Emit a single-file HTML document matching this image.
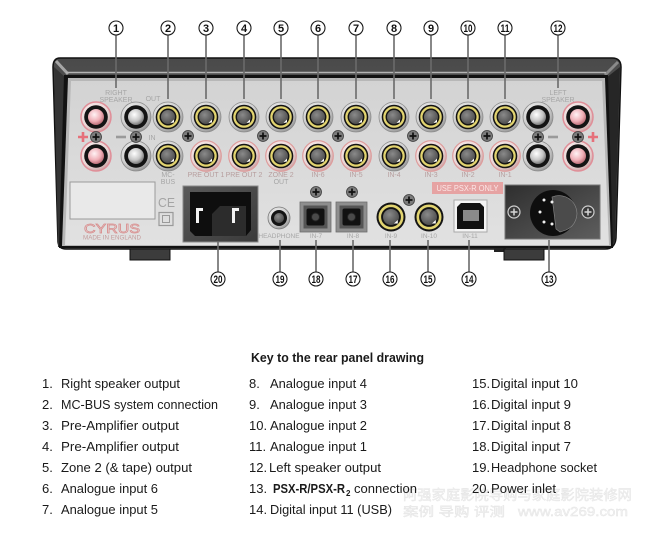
<!DOCTYPE html>
<html><head><meta charset="utf-8">
<style>
html,body{margin:0;padding:0;background:#fff;}
svg{display:block;}
</style></head>
<body>
<svg width="650" height="543" viewBox="0 0 650 543" xmlns="http://www.w3.org/2000/svg" font-family="Liberation Sans, Arial, sans-serif">
<defs>
 <radialGradient id="silver" cx="0.4" cy="0.35" r="0.7">
   <stop offset="0" stop-color="#f6f6f6"/>
   <stop offset="0.65" stop-color="#d0d0d0"/>
   <stop offset="1" stop-color="#8e8e8e"/>
 </radialGradient>
 <radialGradient id="pinkface" cx="0.4" cy="0.35" r="0.7">
   <stop offset="0" stop-color="#fbf1f1"/>
   <stop offset="0.7" stop-color="#ead6d6"/>
   <stop offset="1" stop-color="#c79a9a"/>
 </radialGradient>
 <radialGradient id="ball" cx="0.4" cy="0.35" r="0.7">
   <stop offset="0" stop-color="#ffffff"/>
   <stop offset="0.6" stop-color="#c4c4c4"/>
   <stop offset="1" stop-color="#6a6a6a"/>
 </radialGradient>
 <radialGradient id="pinkball" cx="0.4" cy="0.35" r="0.7">
   <stop offset="0" stop-color="#fff3f5"/>
   <stop offset="0.6" stop-color="#efaeb6"/>
   <stop offset="1" stop-color="#b4646e"/>
 </radialGradient>
 <radialGradient id="grayc" cx="0.4" cy="0.35" r="0.7">
   <stop offset="0" stop-color="#8a8a8a"/>
   <stop offset="1" stop-color="#4a4a4a"/>
 </radialGradient>
 <linearGradient id="panel" x1="0" y1="0" x2="0" y2="1">
   <stop offset="0" stop-color="#d3d3d3"/>
   <stop offset="1" stop-color="#e1e1e1"/>
 </linearGradient>
 <linearGradient id="frame" x1="0" y1="0" x2="0" y2="1">
   <stop offset="0" stop-color="#4a4a4a"/>
   <stop offset="1" stop-color="#6a6a6a"/>
 </linearGradient>
 <linearGradient id="plate" x1="0" y1="0" x2="1" y2="1">
   <stop offset="0" stop-color="#2e2e2e"/>
   <stop offset="1" stop-color="#5e5e5e"/>
 </linearGradient>
 <linearGradient id="inlet" x1="0" y1="0" x2="1" y2="1">
   <stop offset="0" stop-color="#5a5a5a"/>
   <stop offset="1" stop-color="#3a3a3a"/>
 </linearGradient>
 <g id="rcacore">
   <circle r="12.3" fill="#141414"/>
   <circle r="9.6" fill="none" stroke="#e2d470" stroke-width="2.3"/>
   <circle r="7" fill="url(#grayc)"/>
   <path d="M2.5,6 L6,2.5 L6,5.5 Z" fill="#fff"/>
 </g>
 <g id="rca">
   <circle r="15" fill="url(#silver)" stroke="#8c8c8c" stroke-width="0.8"/>
   <use href="#rcacore"/>
 </g>
 <g id="rcap">
   <circle r="15.3" fill="url(#pinkface)" stroke="#de9c9c" stroke-width="1.2"/>
   <use href="#rcacore"/>
 </g>
 <g id="screw">
   <circle r="5.5" fill="#7c7c7c" stroke="#3c3c3c" stroke-width="0.8"/>
   <path d="M-3.5,0H3.5M0,-3.5V3.5" stroke="#111" stroke-width="1.7"/>
 </g>
 <g id="screwL">
   <circle r="6" fill="#3a3a3a" stroke="#cfcfcf" stroke-width="1.2"/>
   <path d="M-3.5,0H3.5M0,-3.5V3.5" stroke="#d6d6d6" stroke-width="1.5"/>
 </g>
 <g id="spkR">
   <circle r="15" fill="url(#pinkface)" stroke="#e08e98" stroke-width="1.5"/>
   <circle r="11.8" fill="#141414"/>
   <circle r="8" fill="url(#pinkball)"/>
 </g>
 <g id="spkB">
   <circle r="15" fill="url(#silver)" stroke="#8a8a8a" stroke-width="0.8"/>
   <circle r="11.8" fill="#141414"/>
   <circle r="8" fill="url(#ball)"/>
 </g>
 <g id="coax">
   <circle r="14.5" fill="#141414"/>
   <circle r="11.2" fill="none" stroke="#e2d470" stroke-width="2.6"/>
   <circle r="8" fill="url(#grayc)"/>
   <path d="M3,6.5 L6.8,3 L6.8,6.5 Z" fill="#fff"/>
 </g>
 <g id="opt">
   <rect x="-16" y="-15" width="31" height="30" fill="#8e8e8e" stroke="#6e6e6e" stroke-width="0.8"/>
   <rect x="-12.5" y="-11.5" width="24" height="23" fill="#555"/>
   <rect x="-9.5" y="-8.5" width="18" height="17" rx="2" fill="#111"/>
   <circle cx="-0.5" cy="0" r="4" fill="#4a4a4a" stroke="#222" stroke-width="1"/>
 </g>
</defs>

<!-- chassis -->
<path d="M60,58 H612 Q621,58 621,67 L616,238 Q615,249 605,249 H66 Q59,249 58,242 L53,67 Q53,58 60,58 Z" fill="url(#frame)" stroke="#111" stroke-width="1.5"/>
<path d="M54,67 L66,78 L61,247 L58,247 Z" fill="#343434"/>
<path d="M620,67 L606,78 L612,247 L615,240 Z" fill="#262626"/>
<path d="M56,61 L68,74" stroke="#a6a6a6" stroke-width="3"/>
<path d="M618,62 L605,75" stroke="#8a8a8a" stroke-width="3"/>
<path d="M66,72.5 H606" stroke="#b4b4b4" stroke-width="1.6"/>
<path d="M64,75 H608 L613,248 H59 Z" fill="#121212"/>
<path d="M68,78 H605 L611,246 H62 Z" fill="#b7b7b7"/>
<path d="M71,81 H602 L609,245 H65 Z" fill="url(#panel)"/>
<!-- feet -->
<rect x="130" y="249" width="40" height="11" fill="#3c3c3c" stroke="#111" stroke-width="1"/>
<rect x="494" y="248" width="12" height="4" fill="#222"/>
<rect x="504" y="249" width="40" height="11" fill="#3c3c3c" stroke="#111" stroke-width="1"/>

<!-- panel labels -->
<g font-size="7" fill="#a6a6a6" text-anchor="middle">
 <text x="116" y="95">RIGHT</text>
 <text x="116" y="102">SPEAKER</text>
 <text x="558" y="95">LEFT</text>
 <text x="558" y="102">SPEAKER</text>
 <text x="153" y="101">OUT</text>
 <text x="152" y="140">IN</text>
 <text x="168" y="177">MC-</text>
 <text x="168" y="184">BUS</text>
 <text x="281" y="184">OUT</text>
</g>
<g font-size="7" fill="#b79e9e" text-anchor="middle">
 <text x="206" y="177">PRE OUT 1</text>
 <text x="244" y="177">PRE OUT 2</text>
 <text x="281" y="177">ZONE 2</text>
 <text x="318" y="177">IN-6</text>
 <text x="356" y="177">IN-5</text>
 <text x="394" y="177">IN-4</text>
 <text x="431" y="177">IN-3</text>
 <text x="468" y="177">IN-2</text>
 <text x="505" y="177">IN-1</text>
</g>
<g font-size="6.5" fill="#a6a6a6" text-anchor="middle">
 <text x="279" y="238">HEADPHONE</text>
 <text x="316" y="238">IN-7</text>
 <text x="353" y="238">IN-8</text>
 <text x="391" y="238">IN-9</text>
 <text x="429" y="238">IN-10</text>
 <text x="470" y="238">IN-11</text>
</g>

<!-- speaker terminals -->
<use href="#spkR" x="96" y="117"/>
<use href="#spkR" x="96" y="156"/>
<use href="#spkB" x="136" y="117"/>
<use href="#spkB" x="136" y="156"/>
<use href="#spkB" x="538" y="117"/>
<use href="#spkB" x="538" y="156"/>
<use href="#spkR" x="578" y="117"/>
<use href="#spkR" x="578" y="156"/>
<use href="#screw" x="96" y="137"/>
<use href="#screw" x="136" y="137"/>
<use href="#screw" x="538" y="137"/>
<use href="#screw" x="578" y="137"/>
<path d="M78,137 H88 M83,132 V142" stroke="#e6707a" stroke-width="2.6"/>
<path d="M116,137 H126" stroke="#9a9a9a" stroke-width="2.6"/>
<path d="M548,137 H558" stroke="#9a9a9a" stroke-width="2.6"/>
<path d="M588,137 H598 M593,132 V142" stroke="#e6707a" stroke-width="2.6"/>

<!-- RCA top row -->
<use href="#rca" x="168" y="117"/>
<use href="#rca" x="206" y="117"/>
<use href="#rca" x="244" y="117"/>
<use href="#rca" x="281" y="117"/>
<use href="#rca" x="318" y="117"/>
<use href="#rca" x="356" y="117"/>
<use href="#rca" x="394" y="117"/>
<use href="#rca" x="431" y="117"/>
<use href="#rca" x="468" y="117"/>
<use href="#rca" x="505" y="117"/>
<!-- RCA bottom row -->
<use href="#rca" x="168" y="156"/>
<use href="#rcap" x="206" y="156"/>
<use href="#rcap" x="244" y="156"/>
<use href="#rcap" x="281" y="156"/>
<use href="#rcap" x="318" y="156"/>
<use href="#rcap" x="356" y="156"/>
<use href="#rca" x="394" y="156"/>
<use href="#rcap" x="431" y="156"/>
<use href="#rcap" x="468" y="156"/>
<use href="#rcap" x="505" y="156"/>
<use href="#screw" x="188" y="136"/>
<use href="#screw" x="263" y="136"/>
<use href="#screw" x="338" y="136"/>
<use href="#screw" x="413" y="136"/>
<use href="#screw" x="487" y="136"/>

<!-- label plate, logo, CE -->
<rect x="70" y="182" width="85" height="37" fill="#e9e9e9" stroke="#9a9a9a" stroke-width="1"/>
<text x="84" y="233" font-size="13" fill="none" stroke="#d98a8a" stroke-width="0.7" textLength="56" lengthAdjust="spacingAndGlyphs">CYRUS</text>
<text x="83" y="239.5" font-size="6.3" fill="#c39c9c" textLength="58" lengthAdjust="spacingAndGlyphs">MADE IN ENGLAND</text>
<text x="158" y="207" font-size="12.5" fill="#a4a4a4" textLength="17" lengthAdjust="spacingAndGlyphs">CE</text>
<rect x="159" y="212.5" width="14" height="13" fill="none" stroke="#9a9a9a" stroke-width="1.2"/>
<rect x="162.5" y="215.5" width="7" height="7" fill="none" stroke="#9a9a9a" stroke-width="1"/>

<!-- power inlet -->
<rect x="183" y="186" width="75" height="56" fill="url(#inlet)" stroke="#8a8a8a" stroke-width="1"/>
<path d="M190,192 H251 V230 L246,236 H195 L190,231 Z" fill="#0e0e0e"/>
<path d="M212,236 V214 L220,206 H246 V236 Z" fill="#2c2c2c"/>
<path d="M196,208 h7 v3 h-4 v12 h-3 z" fill="#f2f2f2"/>
<path d="M232,208 h7 v3 h-4 v12 h-3 z" fill="#f2f2f2"/>

<!-- headphone -->
<circle cx="279" cy="218" r="11" fill="url(#silver)" stroke="#7a7a7a" stroke-width="0.8"/>
<circle cx="279" cy="218" r="8" fill="#141414"/>
<circle cx="279" cy="218" r="5" fill="url(#grayc)"/>

<!-- optical -->
<use href="#opt" x="316" y="217"/>
<use href="#opt" x="352" y="217"/>
<use href="#screw" x="316" y="192"/>
<use href="#screw" x="352" y="192"/>
<!-- coax -->
<use href="#coax" x="391" y="217"/>
<use href="#coax" x="429" y="217"/>
<use href="#screw" x="409" y="200"/>

<!-- USB -->
<rect x="454" y="200" width="33" height="32" fill="#f3f3f3" stroke="#a8a8a8" stroke-width="1"/>
<path d="M461,203 H480 L484,207 V229 H457 V207 Z" fill="#111"/>
<rect x="463" y="210" width="16" height="11" fill="#8a8a8a"/>

<!-- PSX label -->
<rect x="432" y="182" width="71" height="12" fill="#e6a3a3"/>
<text x="467.5" y="191" font-size="8" fill="#fbe6e6" text-anchor="middle" textLength="62" lengthAdjust="spacingAndGlyphs">USE PSX-R ONLY</text>

<!-- XLR plate -->
<rect x="505" y="185" width="95" height="54" fill="url(#plate)" stroke="#777" stroke-width="1"/>
<circle cx="553" cy="213" r="23" fill="#0e0e0e"/>
<path d="M552,197 A17,17 0 1,1 566,230 L560,232 L556,229 Z" fill="#4b4b4b" stroke="#8a8a8a" stroke-width="0.6"/>
<g fill="#f0f0f0">
 <circle cx="544" cy="200" r="1.5"/>
 <circle cx="552" cy="202" r="1.5"/>
 <circle cx="540" cy="212" r="1.5"/>
 <circle cx="544" cy="222" r="1.5"/>
 <circle cx="552" cy="224" r="1.5"/>
</g>
<use href="#screwL" x="514" y="212"/>
<use href="#screwL" x="588" y="212"/>

<!-- callout lines -->
<g stroke="#6a6a6a" stroke-width="1.6" fill="none">
 <path d="M116,35 V88"/>
 <path d="M168,35 V99"/>
 <path d="M206,35 V99"/>
 <path d="M244,35 V99"/>
 <path d="M281,35 V99"/>
 <path d="M318,35 V99"/>
 <path d="M356,35 V99"/>
 <path d="M394,35 V99"/>
 <path d="M431,35 V99"/>
 <path d="M468,35 V99"/>
 <path d="M505,35 V99"/>
 <path d="M558,35 V88"/>
 <path d="M218,242 V272"/>
 <path d="M280,240 V272"/>
 <path d="M316,240 V272"/>
 <path d="M353,240 V272"/>
 <path d="M390,240 V272"/>
 <path d="M428,240 V272"/>
 <path d="M469,240 V272"/>
 <path d="M549,240 V272"/>
</g>

<!-- callout circles -->
<g fill="#fff" stroke="#1a1a1a" stroke-width="1.1">
 <circle cx="116" cy="28" r="7"/><circle cx="168" cy="28" r="7"/><circle cx="206" cy="28" r="7"/>
 <circle cx="244" cy="28" r="7"/><circle cx="281" cy="28" r="7"/><circle cx="318" cy="28" r="7"/>
 <circle cx="356" cy="28" r="7"/><circle cx="394" cy="28" r="7"/><circle cx="431" cy="28" r="7"/>
 <circle cx="468" cy="28" r="7"/><circle cx="505" cy="28" r="7"/><circle cx="558" cy="28" r="7"/>
 <circle cx="218" cy="279" r="7"/><circle cx="280" cy="279" r="7"/><circle cx="316" cy="279" r="7"/>
 <circle cx="353" cy="279" r="7"/><circle cx="390" cy="279" r="7"/><circle cx="428" cy="279" r="7"/>
 <circle cx="469" cy="279" r="7"/><circle cx="549" cy="279" r="7"/>
</g>
<g font-size="11" fill="#111" text-anchor="middle" font-weight="bold" font-family="Liberation Sans Narrow, Liberation Sans, sans-serif">
 <text x="116" y="32">1</text><text x="168" y="32">2</text><text x="206" y="32">3</text>
 <text x="244" y="32">4</text><text x="281" y="32">5</text><text x="318" y="32">6</text>
 <text x="356" y="32">7</text><text x="394" y="32">8</text><text x="431" y="32">9</text>
 <text x="468" y="32" textLength="9" lengthAdjust="spacingAndGlyphs">10</text>
 <text x="505" y="32" textLength="9" lengthAdjust="spacingAndGlyphs">11</text>
 <text x="558" y="32" textLength="9" lengthAdjust="spacingAndGlyphs">12</text>
 <text x="218" y="283" textLength="9" lengthAdjust="spacingAndGlyphs">20</text>
 <text x="280" y="283" textLength="9" lengthAdjust="spacingAndGlyphs">19</text>
 <text x="316" y="283" textLength="9" lengthAdjust="spacingAndGlyphs">18</text>
 <text x="353" y="283" textLength="9" lengthAdjust="spacingAndGlyphs">17</text>
 <text x="390" y="283" textLength="9" lengthAdjust="spacingAndGlyphs">16</text>
 <text x="428" y="283" textLength="9" lengthAdjust="spacingAndGlyphs">15</text>
 <text x="469" y="283" textLength="9" lengthAdjust="spacingAndGlyphs">14</text>
 <text x="549" y="283" textLength="9" lengthAdjust="spacingAndGlyphs">13</text>
</g>

<!-- watermark -->
<g font-family="Liberation Sans, 'Noto Sans CJK SC', sans-serif" fill="#f3f3f3" stroke="#e3e3e3" stroke-width="0.4">
 <text x="403" y="500" font-size="14" textLength="229" lengthAdjust="spacingAndGlyphs">阿强家庭影院导购与家庭影院装修网</text>
 <text x="403" y="516" font-size="12.5" textLength="102" lengthAdjust="spacingAndGlyphs">案例 导购 评测</text>
 <text x="518" y="516" font-size="12.5" textLength="110" lengthAdjust="spacingAndGlyphs">www.av269.com</text>
</g>

<!-- key -->
<g font-size="13" fill="#1a1a1a">
 <text x="251" y="362" font-weight="bold" textLength="173" lengthAdjust="spacingAndGlyphs">Key to the rear panel drawing</text>

 <text x="42" y="388">1.</text><text x="61" y="388" textLength="119" lengthAdjust="spacingAndGlyphs">Right speaker output</text>
 <text x="42" y="409">2.</text><text x="61" y="409" textLength="157" lengthAdjust="spacingAndGlyphs">MC-BUS system connection</text>
 <text x="42" y="430">3.</text><text x="61" y="430" textLength="118" lengthAdjust="spacingAndGlyphs">Pre-Amplifier output</text>
 <text x="42" y="451">4.</text><text x="61" y="451" textLength="118" lengthAdjust="spacingAndGlyphs">Pre-Amplifier output</text>
 <text x="42" y="472">5.</text><text x="61" y="472" textLength="131" lengthAdjust="spacingAndGlyphs">Zone 2 (&amp; tape) output</text>
 <text x="42" y="493">6.</text><text x="61" y="493" textLength="97" lengthAdjust="spacingAndGlyphs">Analogue input 6</text>
 <text x="42" y="514">7.</text><text x="61" y="514" textLength="97" lengthAdjust="spacingAndGlyphs">Analogue input 5</text>

 <text x="249" y="388">8.</text><text x="270" y="388" textLength="97" lengthAdjust="spacingAndGlyphs">Analogue input 4</text>
 <text x="249" y="409">9.</text><text x="270" y="409" textLength="97" lengthAdjust="spacingAndGlyphs">Analogue input 3</text>
 <text x="249" y="430">10.</text><text x="270" y="430" textLength="97" lengthAdjust="spacingAndGlyphs">Analogue input 2</text>
 <text x="249" y="451">11.</text><text x="270" y="451" textLength="97" lengthAdjust="spacingAndGlyphs">Analogue input 1</text>
 <text x="249" y="472">12.</text><text x="269" y="472" textLength="112" lengthAdjust="spacingAndGlyphs">Left speaker output</text>
 <text x="249" y="493">13.</text>
 <text x="273" y="493" font-weight="bold" textLength="72" lengthAdjust="spacingAndGlyphs">PSX-R/PSX-R</text>
 <text x="346" y="496" font-size="8" font-weight="bold">2</text>
 <text x="354" y="493" textLength="63" lengthAdjust="spacingAndGlyphs">connection</text>
 <text x="249" y="514">14.</text><text x="270" y="514" textLength="122" lengthAdjust="spacingAndGlyphs">Digital input 11 (USB)</text>

 <text x="472" y="388">15.</text><text x="491" y="388" textLength="87" lengthAdjust="spacingAndGlyphs">Digital input 10</text>
 <text x="472" y="409">16.</text><text x="491" y="409" textLength="80" lengthAdjust="spacingAndGlyphs">Digital input 9</text>
 <text x="472" y="430">17.</text><text x="491" y="430" textLength="80" lengthAdjust="spacingAndGlyphs">Digital input 8</text>
 <text x="472" y="451">18.</text><text x="491" y="451" textLength="80" lengthAdjust="spacingAndGlyphs">Digital input 7</text>
 <text x="472" y="472">19.</text><text x="491" y="472" textLength="106" lengthAdjust="spacingAndGlyphs">Headphone socket</text>
 <text x="472" y="493">20.</text><text x="491" y="493" textLength="65" lengthAdjust="spacingAndGlyphs">Power inlet</text>
</g>
</svg>
</body></html>
